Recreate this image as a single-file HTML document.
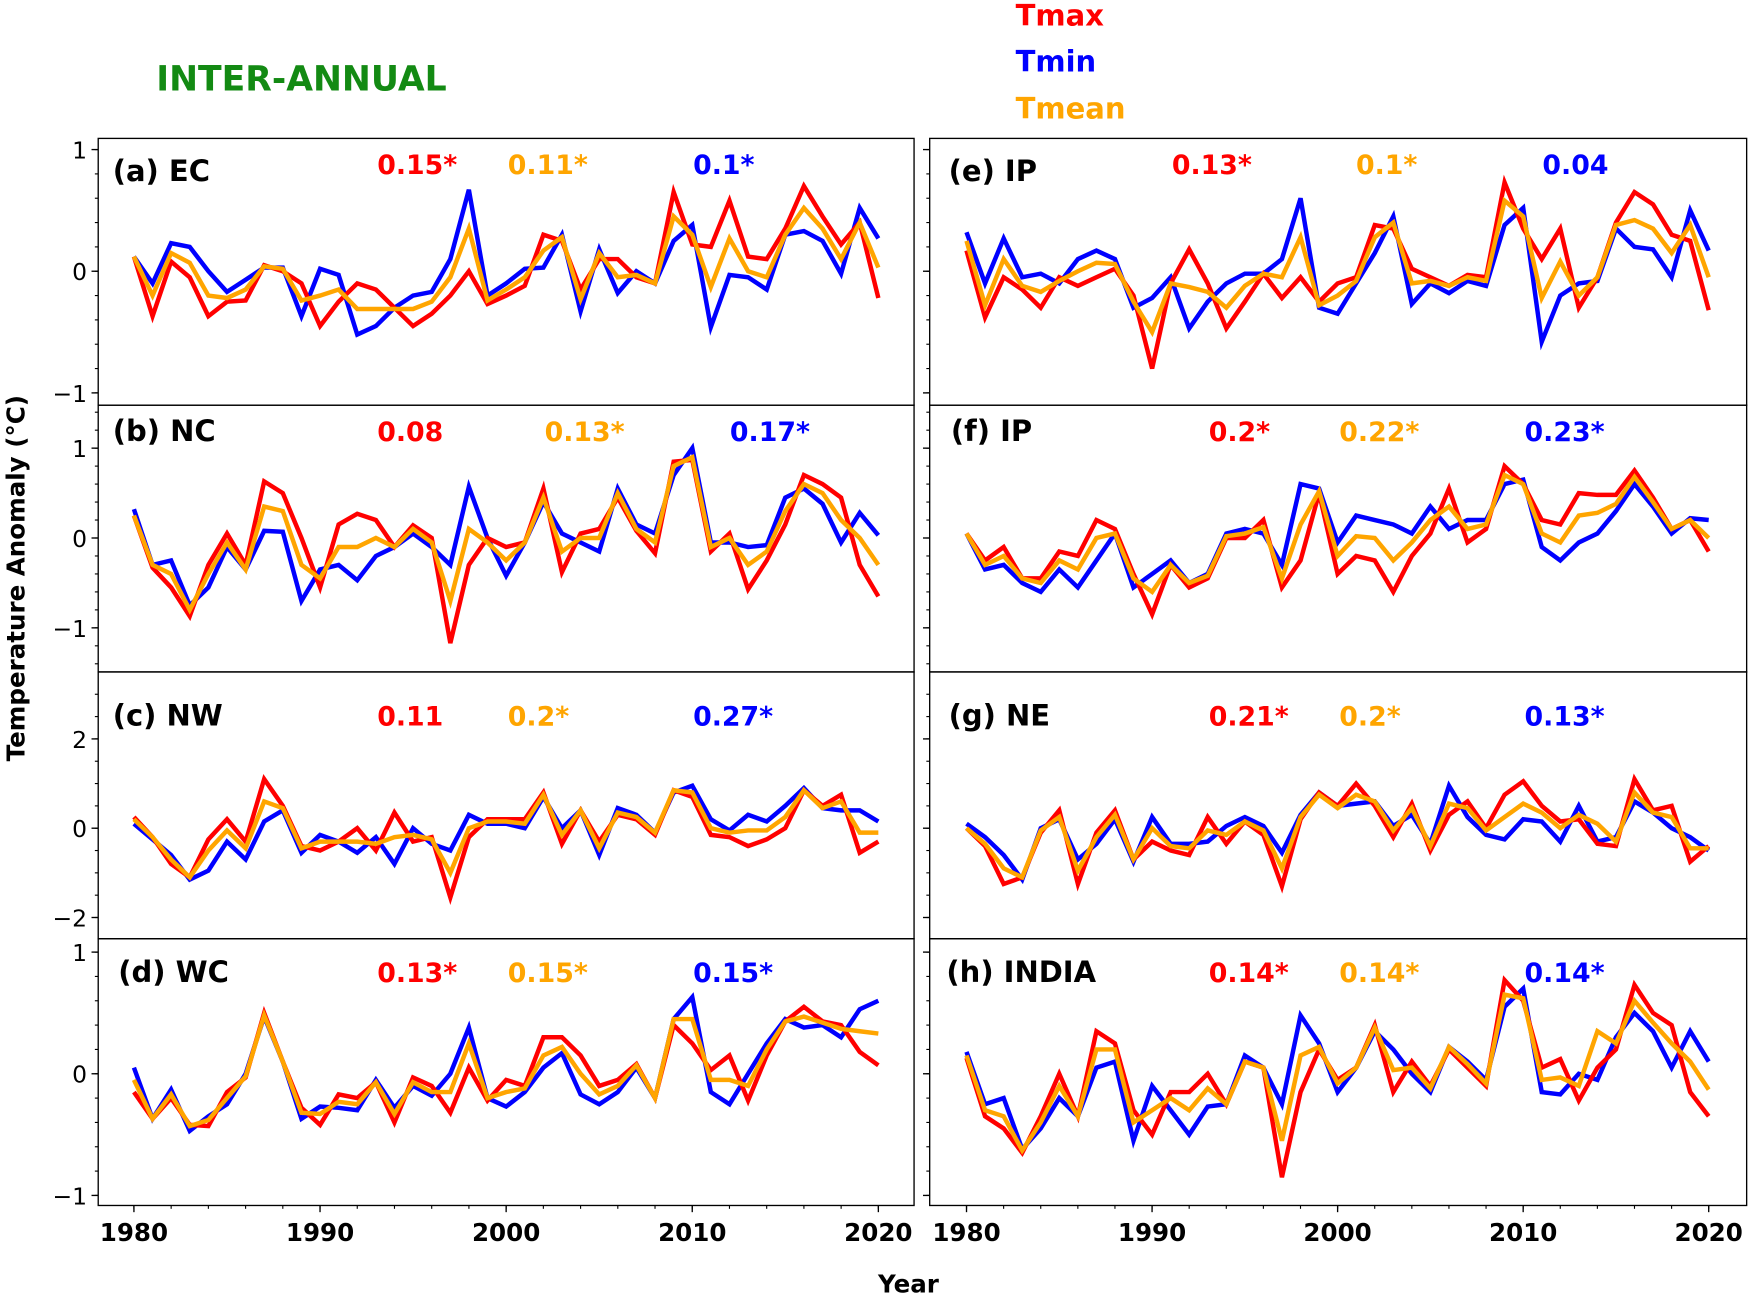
<!DOCTYPE html>
<html><head><meta charset="utf-8"><style>
html,body{margin:0;padding:0;background:#fff;}
svg{display:block;font-family:"DejaVu Sans","Liberation Sans",sans-serif;}
</style></head><body>
<svg id="chart" width="1750" height="1297" viewBox="0 0 1568 1162" preserveAspectRatio="none" xmlns="http://www.w3.org/2000/svg">
<text x="140" y="81" font-size="31" font-weight="bold" fill="#138a13">INTER-ANNUAL</text>
<text x="910" y="23" font-size="26" font-weight="bold" fill="#ff0000">Tmax</text>
<text x="910" y="64" font-size="26" font-weight="bold" fill="#0000ff">Tmin</text>
<text x="910" y="106" font-size="26" font-weight="bold" fill="#ffa500">Tmean</text>
<text transform="translate(22,518) rotate(-90)" text-anchor="middle" font-size="22" font-weight="bold">Temperature Anomaly (°C)</text>
<text x="814" y="1158" text-anchor="middle" font-size="22" font-weight="bold">Year</text>
<g id="panels"></g>
</svg>
<script>
const years = Array.from({length:41},(_,i)=>1980+i);
const panelNames = ["(a) EC","(b) NC","(c) NW","(d) WC","(e) IP","(f) IP","(g) NE","(h) INDIA"];
const trendTmax = ["0.15*","0.08","0.11","0.13*","0.13*","0.2*","0.21*","0.14*"];
const trendTmean = ["0.11*","0.13*","0.2*","0.15*","0.1*","0.22*","0.2*","0.14*"];
const trendTmin = ["0.1*","0.17*","0.27*","0.15*","0.04","0.23*","0.13*","0.14*"];
const xTickLabels = [1980,1990,2000,2010,2020];
const rowTicks = [[1,0,-1],[1,0,-1],[2,0,-2],[1,0,-1]];
const tmax = [
[0.12,-0.37,0.08,-0.05,-0.37,-0.25,-0.24,0.05,0.0,-0.1,-0.45,-0.25,-0.1,-0.15,-0.3,-0.45,-0.35,-0.2,0.0,-0.27,-0.2,-0.12,0.3,0.25,-0.15,0.1,0.1,-0.05,-0.1,0.65,0.22,0.2,0.58,0.12,0.1,0.35,0.7,0.45,0.22,0.4,-0.22],
[0.25,-0.33,-0.55,-0.87,-0.3,0.05,-0.3,0.63,0.5,0.0,-0.55,0.15,0.27,0.2,-0.1,0.14,0.0,-1.17,-0.3,0.0,-0.1,-0.05,0.55,-0.38,0.05,0.1,0.45,0.08,-0.17,0.85,0.87,-0.15,0.05,-0.57,-0.25,0.15,0.7,0.6,0.45,-0.3,-0.65],
[0.25,-0.2,-0.8,-1.1,-0.25,0.2,-0.3,1.1,0.5,-0.4,-0.5,-0.3,0.0,-0.5,0.35,-0.3,-0.2,-1.55,-0.2,0.2,0.2,0.2,0.8,-0.35,0.4,-0.3,0.3,0.2,-0.15,0.85,0.7,-0.15,-0.2,-0.4,-0.25,0.0,0.85,0.5,0.75,-0.55,-0.3],
[-0.15,-0.37,-0.2,-0.42,-0.43,-0.15,-0.03,0.5,0.1,-0.28,-0.42,-0.17,-0.2,-0.07,-0.4,-0.03,-0.1,-0.32,0.05,-0.22,-0.05,-0.1,0.3,0.3,0.15,-0.1,-0.05,0.08,-0.2,0.4,0.25,0.03,0.15,-0.22,0.15,0.43,0.55,0.43,0.4,0.18,0.07],
[0.17,-0.38,-0.05,-0.15,-0.3,-0.05,-0.12,-0.05,0.02,-0.2,-0.8,-0.1,0.18,-0.1,-0.47,-0.25,-0.02,-0.22,-0.05,-0.25,-0.1,-0.05,0.38,0.35,0.02,-0.05,-0.12,-0.03,-0.05,0.73,0.35,0.1,0.35,-0.3,-0.05,0.4,0.65,0.55,0.3,0.25,-0.32],
[0.05,-0.25,-0.1,-0.45,-0.45,-0.15,-0.2,0.2,0.1,-0.4,-0.85,-0.3,-0.55,-0.45,0.0,0.0,0.2,-0.55,-0.25,0.5,-0.4,-0.2,-0.25,-0.6,-0.2,0.05,0.55,-0.05,0.1,0.8,0.6,0.2,0.15,0.5,0.48,0.48,0.75,0.45,0.1,0.2,-0.15],
[0.0,-0.4,-1.25,-1.1,-0.1,0.4,-1.25,-0.1,0.4,-0.7,-0.3,-0.5,-0.6,0.25,-0.35,0.15,-0.15,-1.3,0.2,0.8,0.5,1.0,0.5,-0.2,0.55,-0.5,0.3,0.6,0.0,0.75,1.05,0.5,0.15,0.2,-0.35,-0.4,1.1,0.4,0.5,-0.75,-0.4],
[0.13,-0.35,-0.45,-0.65,-0.35,0.0,-0.35,0.35,0.25,-0.3,-0.5,-0.15,-0.15,0.0,-0.25,0.1,0.05,-0.85,-0.15,0.2,-0.05,0.05,0.4,-0.15,0.1,-0.1,0.2,0.05,-0.1,0.77,0.6,0.05,0.12,-0.22,0.05,0.2,0.73,0.5,0.4,-0.15,-0.35]];
const tmin = [
[0.12,-0.1,0.23,0.2,0.0,-0.17,-0.07,0.03,0.03,-0.37,0.02,-0.03,-0.52,-0.45,-0.3,-0.2,-0.17,0.1,0.67,-0.2,-0.1,0.02,0.03,0.3,-0.33,0.18,-0.18,0.0,-0.1,0.25,0.38,-0.46,-0.03,-0.05,-0.15,0.3,0.33,0.25,-0.02,0.52,0.27],
[0.32,-0.3,-0.25,-0.75,-0.55,-0.1,-0.35,0.08,0.07,-0.7,-0.35,-0.3,-0.47,-0.2,-0.1,0.05,-0.1,-0.3,0.57,0.0,-0.42,-0.05,0.4,0.05,-0.05,-0.15,0.55,0.15,0.05,0.7,1.0,-0.05,-0.05,-0.1,-0.08,0.45,0.55,0.38,-0.05,0.28,0.03],
[0.1,-0.25,-0.6,-1.15,-0.95,-0.3,-0.7,0.15,0.4,-0.55,-0.15,-0.3,-0.55,-0.2,-0.8,0.0,-0.35,-0.5,0.3,0.1,0.1,0.0,0.7,0.0,0.4,-0.6,0.45,0.3,-0.1,0.8,0.95,0.2,-0.05,0.3,0.15,0.5,0.9,0.45,0.4,0.4,0.15],
[0.05,-0.37,-0.13,-0.47,-0.35,-0.25,0.0,0.47,0.1,-0.37,-0.27,-0.28,-0.3,-0.05,-0.28,-0.1,-0.18,0.0,0.38,-0.2,-0.27,-0.15,0.05,0.17,-0.17,-0.25,-0.15,0.05,-0.2,0.45,0.63,-0.15,-0.25,0.0,0.25,0.45,0.38,0.4,0.3,0.53,0.6],
[0.32,-0.1,0.27,-0.05,-0.02,-0.1,0.1,0.17,0.1,-0.3,-0.22,-0.05,-0.47,-0.25,-0.1,-0.02,-0.02,0.1,0.6,-0.3,-0.35,-0.1,0.15,0.45,-0.27,-0.1,-0.18,-0.08,-0.12,0.38,0.52,-0.58,-0.2,-0.1,-0.08,0.35,0.2,0.18,-0.05,0.5,0.17],
[0.05,-0.35,-0.3,-0.5,-0.6,-0.35,-0.55,-0.25,0.05,-0.55,-0.4,-0.25,-0.5,-0.4,0.05,0.1,0.05,-0.3,0.6,0.55,-0.05,0.25,0.2,0.15,0.05,0.35,0.1,0.2,0.2,0.6,0.65,-0.1,-0.25,-0.05,0.05,0.3,0.6,0.35,0.05,0.22,0.2],
[0.1,-0.2,-0.6,-1.15,0.0,0.2,-0.7,-0.35,0.2,-0.75,0.25,-0.35,-0.35,-0.3,0.05,0.25,0.05,-0.55,0.3,0.8,0.5,0.55,0.6,0.05,0.3,-0.35,0.95,0.25,-0.15,-0.25,0.2,0.15,-0.3,0.5,-0.3,-0.2,0.6,0.35,0.0,-0.2,-0.5],
[0.18,-0.25,-0.2,-0.62,-0.45,-0.2,-0.35,0.05,0.1,-0.55,-0.1,-0.3,-0.5,-0.27,-0.25,0.15,0.05,-0.25,0.48,0.25,-0.15,0.05,0.35,0.2,0.0,-0.15,0.22,0.1,-0.05,0.55,0.7,-0.15,-0.17,0.0,-0.05,0.3,0.5,0.35,0.05,0.35,0.1]];
const tmean = [
[0.12,-0.2,0.15,0.07,-0.2,-0.22,-0.15,0.04,0.02,-0.24,-0.2,-0.15,-0.31,-0.31,-0.31,-0.31,-0.25,-0.05,0.35,-0.24,-0.15,-0.05,0.17,0.28,-0.23,0.15,-0.05,-0.03,-0.1,0.45,0.3,-0.13,0.27,0.0,-0.05,0.3,0.52,0.35,0.1,0.4,0.03],
[0.25,-0.3,-0.4,-0.8,-0.4,-0.05,-0.35,0.35,0.3,-0.3,-0.45,-0.1,-0.1,0.0,-0.1,0.1,-0.05,-0.7,0.1,-0.05,-0.25,-0.05,0.45,-0.15,0.0,0.0,0.5,0.1,-0.05,0.8,0.9,-0.1,0.0,-0.3,-0.15,0.3,0.6,0.5,0.2,0.0,-0.3],
[0.2,-0.2,-0.7,-1.1,-0.5,-0.05,-0.45,0.6,0.45,-0.45,-0.3,-0.3,-0.3,-0.35,-0.2,-0.15,-0.25,-1.0,0.0,0.15,0.15,0.1,0.75,-0.15,0.4,-0.45,0.35,0.25,-0.1,0.85,0.8,0.0,-0.1,-0.05,-0.05,0.25,0.85,0.45,0.6,-0.1,-0.1],
[-0.05,-0.37,-0.17,-0.43,-0.38,-0.2,-0.02,0.48,0.1,-0.32,-0.33,-0.23,-0.25,-0.07,-0.33,-0.07,-0.15,-0.15,0.25,-0.2,-0.15,-0.12,0.15,0.22,0.0,-0.17,-0.1,0.07,-0.2,0.45,0.45,-0.05,-0.05,-0.1,0.2,0.43,0.47,0.42,0.37,0.35,0.33],
[0.25,-0.28,0.1,-0.12,-0.17,-0.08,0.0,0.07,0.06,-0.25,-0.5,-0.1,-0.13,-0.17,-0.3,-0.12,-0.02,-0.05,0.28,-0.28,-0.2,-0.08,0.28,0.4,-0.1,-0.08,-0.12,-0.05,-0.08,0.58,0.45,-0.22,0.08,-0.2,-0.05,0.38,0.42,0.35,0.15,0.38,-0.05],
[0.05,-0.3,-0.2,-0.45,-0.5,-0.25,-0.35,0.0,0.05,-0.45,-0.6,-0.3,-0.5,-0.42,0.02,0.05,0.12,-0.45,0.15,0.52,-0.2,0.02,0.0,-0.25,-0.05,0.2,0.35,0.1,0.15,0.7,0.6,0.05,-0.05,0.25,0.28,0.38,0.68,0.4,0.1,0.2,0.0],
[0.0,-0.35,-0.9,-1.1,-0.05,0.25,-0.95,-0.2,0.3,-0.7,0.0,-0.4,-0.45,-0.05,-0.15,0.15,-0.05,-0.9,0.25,0.75,0.45,0.75,0.6,-0.05,0.45,-0.4,0.55,0.45,-0.05,0.25,0.55,0.35,0.0,0.3,0.1,-0.3,0.8,0.35,0.25,-0.45,-0.45],
[0.15,-0.3,-0.35,-0.63,-0.4,-0.1,-0.35,0.2,0.2,-0.4,-0.3,-0.2,-0.3,-0.12,-0.25,0.1,0.05,-0.55,0.15,0.22,-0.08,0.05,0.38,0.03,0.05,-0.12,0.22,0.08,-0.08,0.65,0.62,-0.05,-0.03,-0.1,0.35,0.25,0.6,0.42,0.25,0.1,-0.13]];

const NS="http://www.w3.org/2000/svg";
const root=document.getElementById('panels');
function mk(tag,attrs,parent){const e=document.createElementNS(NS,tag);for(const k in attrs)e.setAttribute(k,attrs[k]);(parent||root).appendChild(e);return e;}
const rowTop=[124,363,602,841], rowH=239;
const rowZero=[243,482,742,962], rowScale=[109,80.5,40,109];
const colLeft=[88,833], colW=[731,732];
const col1980=[120,866], col2020=[787,1531];
const trendX=[[338,455,621],[338,488,654],[338,455,621],[338,455,621],[1050,1215,1382],[1083,1200,1366],[1083,1200,1366],[1083,1200,1366]];
const labelX=[101,101,101,106,850,852,850,848];
const baseY=[156,395,650,880];

for(let p=0;p<8;p++){
  const c=Math.floor(p/4), r=p%4;
  const g=mk('g',{});
  
  
  const xS=y=>col1980[c]+(y-1980)*(col2020[c]-col1980[c])/40;
  const yS=v=>rowZero[r]-v*rowScale[r];
  const series=[[tmin[p],'#0000ff','tmin-line'],[tmax[p],'#ff0000','tmax-line'],[tmean[p],'#ffa500','tmean-line']];
  series.forEach(([arr,col,nm])=>{
    const d=arr.map((v,i)=>(i?'L':'M')+xS(years[i]).toFixed(1)+','+yS(v).toFixed(1)).join(' ');
    const pl=mk('path',{d:d,fill:'none',stroke:col,'stroke-width':4,'stroke-linejoin':'miter'},g);
    
    
  });
  const fr=mk('rect',{x:colLeft[c],y:rowTop[r],width:colW[c],height:rowH,fill:'none',stroke:'#000','stroke-width':1.2},g);
  
  
  const pt=mk('text',{x:labelX[p],y:(r==0?162:baseY[r]),'font-size':26,'font-weight':'bold',fill:'#000'},g);
  pt.textContent=panelNames[p];
  
  
  [[trendTmax[p],'#ff0000','trend-tmax'],[trendTmean[p],'#ffa500','trend-tmean'],[trendTmin[p],'#0000ff','trend-tmin']].forEach(([t,col,nm],k)=>{
    const te=mk('text',{x:trendX[p][k],y:baseY[r],'font-size':24,'font-weight':'bold',fill:col},g);
    te.textContent=t;
    
    
  });
  const x0=colLeft[c];
  const step=rowTicks[r][0]===2?0.5:0.2;
  for(let v=-3;v<=3.001;v+=step){
    const yy=yS(v); if(yy<rowTop[r]+1||yy>rowTop[r]+rowH-1) continue;
    mk('line',{x1:x0-3,x2:x0,y1:yy,y2:yy,stroke:'#000','stroke-width':1},g);
  }
  rowTicks[r].forEach(v=>{
    const yy=yS(v);
    mk('line',{x1:x0-6,x2:x0,y1:yy,y2:yy,stroke:'#000','stroke-width':1.2},g);
    if(c===0){
      const tl=mk('text',{x:x0-10,y:yy+8,'text-anchor':'end','font-size':21,fill:'#000'},g);
      tl.textContent=v<0?'\u2212'+Math.abs(v):String(v);
      
      
    }
  });
  if(r===3){
    const yb=rowTop[r]+rowH;
    for(let y=1980;y<=2020;y+=2){mk('line',{x1:xS(y),x2:xS(y),y1:yb,y2:yb+3,stroke:'#000','stroke-width':1},g);}
    xTickLabels.forEach(y=>{
      mk('line',{x1:xS(y),x2:xS(y),y1:yb,y2:yb+6,stroke:'#000','stroke-width':1.2},g);
      const tl=mk('text',{x:xS(y),y:yb+32,'text-anchor':'middle','font-size':22,'font-weight':'bold',fill:'#000'},g);
      tl.textContent=String(y);
      
      
    });
  }
}
</script>
</body></html>
